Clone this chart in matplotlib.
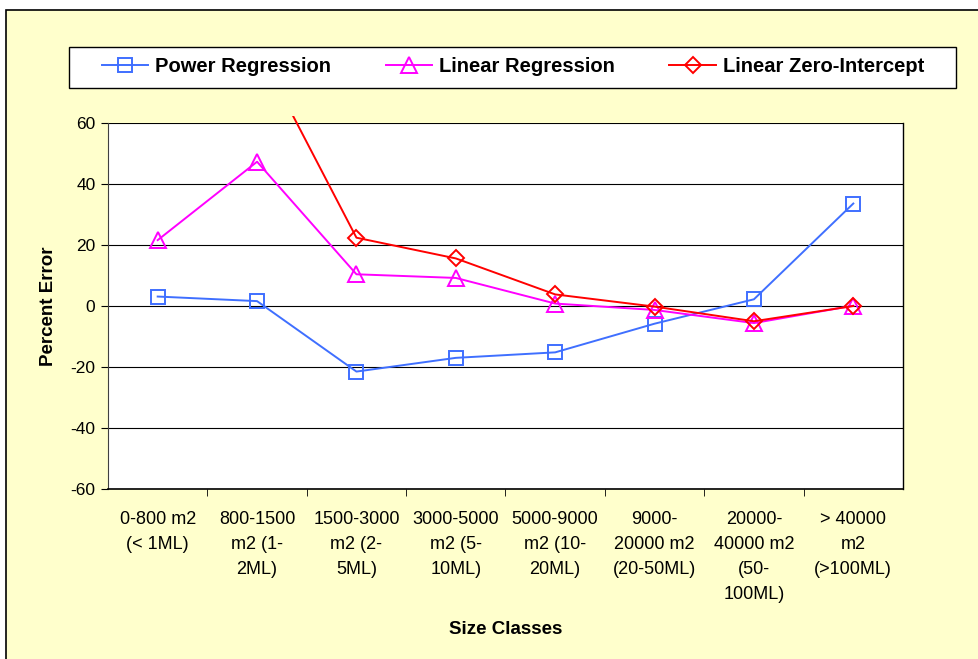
import matplotlib
matplotlib.use("Agg")
import matplotlib.pyplot as plt
from matplotlib.patches import Rectangle

plt.rcParams['font.family'] = ['Liberation Sans', 'DejaVu Sans']
plt.rcParams['axes.unicode_minus'] = False

# --- data
categories = ["0-800 m2\n(< 1ML)", "800-1500\nm2 (1-\n2ML)", "1500-3000\nm2 (2-\n5ML)",
              "3000-5000\nm2 (5-\n10ML)", "5000-9000\nm2 (10-\n20ML)", "9000-\n20000 m2\n(20-50ML)",
              "20000-\n40000 m2\n(50-\n100ML)", "> 40000\nm2\n(>100ML)"]
power_reg = [3.1, 1.6, -21.5, -17.0, -15.2, -5.8, 2.2, 33.6]
linear_reg = [21.6, 47.3, 10.4, 9.2, 0.8, -1.3, -5.6, 0.1]
linear_zero = [150.0, 85.0, 22.4, 15.6, 3.8, -0.2, -5.0, 0.0]
yticks = [-60, -40, -20, 0, 20, 40, 60]

W, H = 979, 659
fig = plt.figure(figsize=(W / 100, H / 100), dpi=100)
fig.patch.set_facecolor('white')

# chart area (yellow box, runs off right/bottom edge)
fig.patches.append(Rectangle((6 / W, -0.05), 1.2, 1 - 10 / H + 0.05, transform=fig.transFigure,
                             facecolor='#FFFFCC', edgecolor='black', linewidth=1.2, zorder=-5))
# legend box
fig.patches.append(Rectangle((69 / W, 1 - 88 / H), (956 - 69) / W, 41 / H, transform=fig.transFigure,
                             facecolor='white', edgecolor='black', linewidth=1.0, zorder=-4))

ax = fig.add_axes([108 / W, 1 - 489 / H, (903 - 108) / W, (489 - 123) / H])
ax.set_facecolor('white')

x = list(range(len(categories)))
clip = Rectangle((0, 0), 1, 1.02, transform=ax.transAxes, visible=False)
ax.add_patch(clip)

l1, = ax.plot(x, power_reg, color='#3F6FFF', lw=1.4, marker='s', markersize=10,
              markerfacecolor='none', markeredgewidth=1.4, label='Power Regression')
l2, = ax.plot(x, linear_reg, color='#FF00FF', lw=1.4, marker='^', markersize=11,
              markerfacecolor='none', markeredgewidth=1.4, label='Linear Regression')
l3, = ax.plot(x, linear_zero, color='#FF0000', lw=1.4, marker='D', markersize=8,
              markerfacecolor='none', markeredgewidth=1.4, label='Linear Zero-Intercept')
for ln in (l1, l2, l3):
    ln.set_clip_path(clip)

ax.set_xlim(-0.5, len(categories) - 0.5)
ax.set_ylim(-60, 60)
ax.set_yticks(yticks)
ax.yaxis.grid(True, color='black', lw=0.8)
ax.set_axisbelow(True)
ax.spines['top'].set_visible(False)
ax.spines['left'].set_color('#404040')
ax.spines['right'].set_linewidth(1.0)
ax.spines['bottom'].set_linewidth(1.2)

# category labels centred, tick marks between categories
ax.set_xticks(x)
ax.set_xticklabels(categories, fontsize=13, linespacing=1.6, va='top')
ax.tick_params(axis='x', length=0, pad=16)
ax.set_xticks([i + 0.5 for i in x[:-1]], minor=True)
ax.tick_params(axis='x', which='minor', length=5, direction='out')
ax.tick_params(axis='y', length=5, direction='out', labelsize=12.5, pad=4)

ax.set_xlabel('Size Classes', fontsize=13.5, fontweight='bold', labelpad=13)
ax.set_ylabel('Percent Error', fontsize=13.5, fontweight='bold', labelpad=10)

fig.legend(handles=[l1, l2, l3], loc='center', ncol=3,
           bbox_to_anchor=(513 / W, 1 - 67 / H),
           prop={'weight': 'bold', 'size': 14.5}, frameon=False,
           handlelength=2.3, handletextpad=0.35, columnspacing=2.7, borderaxespad=0)

fig.savefig('out.png', dpi=100, facecolor=fig.get_facecolor())
